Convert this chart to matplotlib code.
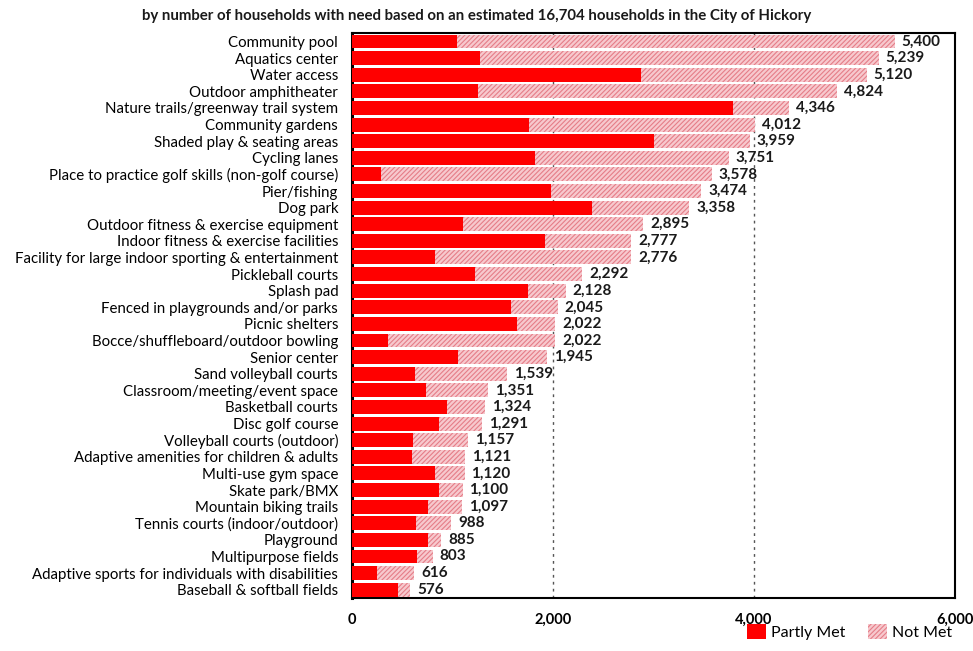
import matplotlib
matplotlib.use("Agg")
import matplotlib.pyplot as plt
from matplotlib.patches import Patch

plt.rcParams['font.family'] = ['Lato', 'DejaVu Sans']
plt.rcParams['hatch.linewidth'] = 0.8

title = "by number of households with need based on an estimated 16,704 households in the City of Hickory"

categories = [
    "Community pool", "Aquatics center", "Water access", "Outdoor amphitheater",
    "Nature trails/greenway trail system", "Community gardens",
    "Shaded play & seating areas", "Cycling lanes",
    "Place to practice golf skills (non-golf course)", "Pier/fishing", "Dog park",
    "Outdoor fitness & exercise equipment", "Indoor fitness & exercise facilities",
    "Facility for large indoor sporting & entertainment", "Pickleball courts",
    "Splash pad", "Fenced in playgrounds and/or parks", "Picnic shelters",
    "Bocce/shuffleboard/outdoor bowling", "Senior center", "Sand volleyball courts",
    "Classroom/meeting/event space", "Basketball courts", "Disc golf course",
    "Volleyball courts (outdoor)", "Adaptive amenities for children & adults",
    "Multi-use gym space", "Skate park/BMX", "Mountain biking trails",
    "Tennis courts (indoor/outdoor)", "Playground", "Multipurpose fields",
    "Adaptive sports for individuals with disabilities", "Baseball & softball fields",
]

totals = [5400, 5239, 5120, 4824, 4346, 4012, 3959, 3751, 3578, 3474, 3358,
          2895, 2777, 2776, 2292, 2128, 2045, 2022, 2022, 1945, 1539,
          1351, 1324, 1291, 1157, 1121, 1120, 1100, 1097, 988, 885, 803,
          616, 576]

partly_met = [1040, 1270, 2875, 1250, 3790, 1760, 3005, 1820, 290, 1980, 2385,
              1108, 1925, 826, 1224, 1748, 1580, 1640, 360, 1058, 627,
              736, 942, 869, 610, 600, 826, 869, 760, 637, 760, 650,
              245, 455]

not_met = [t - p for t, p in zip(totals, partly_met)]

x_ticks = [0, 2000, 4000, 6000]

RED = "#ff0000"
PINK = "#f7c9ce"
HATCH = "#e57d88"

fig = plt.figure(figsize=(9.73, 6.51), dpi=100)
ax = fig.add_axes([0.3618, 0.0814, 0.6197, 0.8676])

y = list(range(len(categories)))
ax.barh(y, partly_met, height=0.84, color=RED, edgecolor=RED, linewidth=0, zorder=3)
ax.barh(y, not_met, left=partly_met, height=0.84, facecolor=PINK,
        edgecolor=HATCH, hatch="///////", linewidth=0, zorder=3)

for yi, t in zip(y, totals):
    ax.annotate(f"{t:,}", xy=(t, yi), xytext=(5, 0), textcoords="offset points",
                ha="left", va="center", fontsize=11, fontweight="bold",
                color="#1a1a1a", zorder=4)

ax.set_xlim(0, 6000)
ax.set_ylim(len(categories) - 0.5, -0.5)
ax.set_xticks(x_ticks)
ax.set_xticklabels([f"{v:,}" for v in x_ticks], fontweight="bold", fontsize=10.5)
ax.set_yticks(y)
ax.set_yticklabels(categories, fontsize=10.8)
ax.tick_params(axis="both", length=0)
ax.tick_params(axis="x", pad=11)
ax.tick_params(axis="y", pad=10)

for v in (2000, 4000):
    ax.axvline(v, color="#555555", linestyle=(0, (2, 3)), linewidth=1.0, zorder=1)

for s in ax.spines.values():
    s.set_color("black")
    s.set_linewidth(1.5)
ax.spines["left"].set_linewidth(2.2)

fig.text(0.49, 0.975, title, ha="center", va="center", fontsize=10.8,
         fontweight="bold", color="#1a1a1a")

handles = [Patch(facecolor=RED, edgecolor=RED, linewidth=0, label="Partly Met"),
           Patch(facecolor=PINK, edgecolor=HATCH, hatch="///////", linewidth=0,
                 label="Not Met")]
fig.legend(handles=handles, loc="lower right", bbox_to_anchor=(0.993, -0.005),
           ncol=2, frameon=False, fontsize=11.5, handlelength=1.2,
           handleheight=1.0, handletextpad=0.3, columnspacing=1.4)

fig.savefig("out.png", dpi=100)
